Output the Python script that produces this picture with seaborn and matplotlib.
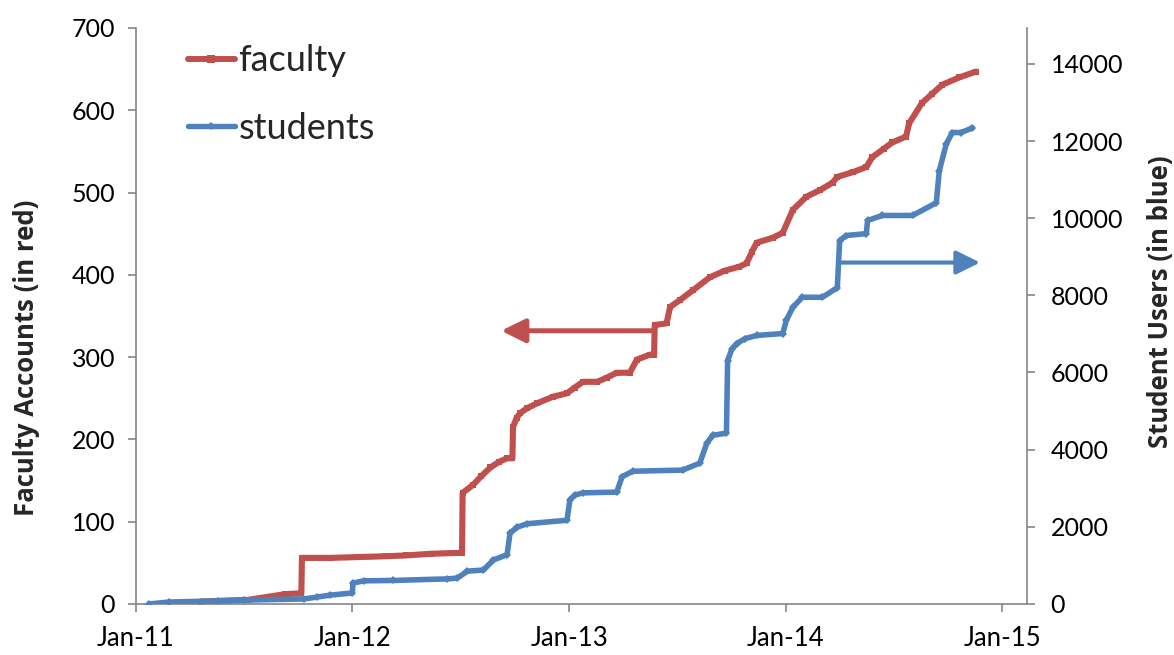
import matplotlib
matplotlib.use("Agg")
import matplotlib.pyplot as plt
import matplotlib.dates as mdates
from matplotlib.lines import Line2D
import seaborn as sns
import pandas as pd

# ---- data ----
faculty_dates = [
    "2011-04-20", "2011-07-09", "2011-09-10", "2011-10-07", "2011-10-08",
    "2011-11-25", "2012-02-26", "2012-04-01", "2012-05-12", "2012-06-24",
    "2012-07-04", "2012-07-05", "2012-07-23", "2012-08-05", "2012-08-21",
    "2012-09-05", "2012-09-18", "2012-09-27", "2012-09-28", "2012-10-04",
    "2012-10-10", "2012-10-22", "2012-11-08", "2012-12-05", "2012-12-28",
    "2013-01-10", "2013-01-24", "2013-02-17", "2013-03-05", "2013-03-22",
    "2013-04-13", "2013-04-25", "2013-05-17", "2013-05-24", "2013-05-25",
    "2013-06-14", "2013-06-20", "2013-07-06", "2013-07-28", "2013-08-26",
    "2013-09-20", "2013-10-15", "2013-10-27", "2013-11-05", "2013-11-13",
    "2013-12-10", "2013-12-27", "2014-01-13", "2014-02-05", "2014-02-28",
    "2014-03-21", "2014-03-29", "2014-04-25", "2014-05-17", "2014-05-27",
    "2014-06-15", "2014-06-30", "2014-07-23", "2014-07-28", "2014-08-19",
    "2014-09-05", "2014-09-22", "2014-10-21", "2014-11-18",
]
faculty_values = [
    3, 5, 12, 13, 56,
    56, 58, 59, 61, 62,
    62, 135, 145, 155, 166,
    173, 177, 177, 215, 226,
    232, 238, 244, 252, 256,
    263, 270, 270, 275, 281,
    281, 297, 303, 303, 339,
    341, 361, 369, 381, 397,
    405, 410, 414, 428, 439,
    445, 451, 479, 495, 503,
    512, 519, 525, 531, 543,
    553, 561, 568, 584, 609,
    620, 631, 640, 647,
]

student_dates = [
    "2011-01-23", "2011-02-26", "2011-05-19", "2011-07-02", "2011-10-11",
    "2011-11-03", "2011-11-25", "2012-01-01", "2012-01-02", "2012-01-20",
    "2012-03-10", "2012-06-09", "2012-06-26", "2012-07-13", "2012-08-09",
    "2012-08-26", "2012-09-18", "2012-09-23", "2012-10-05", "2012-10-22",
    "2012-12-28", "2013-01-02", "2013-01-10", "2013-01-24", "2013-03-22",
    "2013-03-31", "2013-04-18", "2013-07-11", "2013-08-09", "2013-08-21",
    "2013-08-31", "2013-09-23", "2013-09-25", "2013-10-02", "2013-10-10",
    "2013-10-25", "2013-11-13", "2013-12-27", "2014-01-02", "2014-01-13",
    "2014-01-29", "2014-03-04", "2014-03-29", "2014-04-02", "2014-04-13",
    "2014-05-17", "2014-05-19", "2014-06-13", "2014-08-03", "2014-09-12",
    "2014-09-17", "2014-09-29", "2014-10-09", "2014-10-24", "2014-11-12",
]
student_values = [
    0, 50, 80, 100, 130,
    180, 230, 285, 540, 600,
    610, 650, 670, 850, 880,
    1140, 1280, 1840, 1990, 2080,
    2170, 2700, 2820, 2880, 2900,
    3300, 3440, 3470, 3650, 4170,
    4370, 4430, 6310, 6600, 6750,
    6880, 6960, 7010, 7350, 7690,
    7950, 7950, 8200, 9420, 9550,
    9600, 9940, 10070, 10070, 10400,
    11230, 11930, 12220, 12220, 12340,
]

x_tick_dates = ["2011-01-01", "2012-01-01", "2013-01-01", "2014-01-01", "2015-01-01"]
faculty_ticks = [0, 100, 200, 300, 400, 500, 600, 700]
student_ticks = [0, 2000, 4000, 6000, 8000, 10000, 12000, 14000]

series_labels = ["faculty", "students"]
left_label = "Faculty Accounts (in red)"
right_label = "Student Users (in blue)"

# arrow annotations (data coordinates)
red_arrow = {"tail": ("2013-05-21", 332), "tip": ("2012-09-08", 332)}
blue_arrow = {"tail": ("2014-04-04", 8850), "tip": ("2014-11-25", 8850)}

RED = "#C0504D"
BLUE = "#4F81BD"
GRID = "#868686"

# ---- styling ----
sns.set_style("white")
plt.rcParams["font.family"] = ["Lato", "DejaVu Sans"]

fac = pd.DataFrame({"date": pd.to_datetime(faculty_dates), "value": faculty_values})
stu = pd.DataFrame({"date": pd.to_datetime(student_dates), "value": student_values})

fig = plt.figure(figsize=(11.74, 6.55), dpi=100)
ax = fig.add_axes([0.1158, 0.0779, 0.8748 - 0.1158, 0.9573 - 0.0779])
ax2 = ax.twinx()

sns.lineplot(data=fac, x="date", y="value", ax=ax, color=RED, linewidth=4.4,
             marker="s", markersize=5, markeredgewidth=0, sort=True)
sns.lineplot(data=stu, x="date", y="value", ax=ax2, color=BLUE, linewidth=4.0,
             marker="D", markersize=4.5, markeredgewidth=0, sort=True)

ax.set_xlim(pd.Timestamp("2011-01-01"), pd.Timestamp("2015-02-12"))
ax.set_ylim(0, 700)
ax2.set_ylim(0, 14930)
ax.set_xticks(pd.to_datetime(x_tick_dates))
ax.xaxis.set_major_formatter(mdates.DateFormatter("%b-%y"))
ax.set_yticks(faculty_ticks)
ax2.set_yticks(student_ticks)

label_font = dict(family=["Open Sans", "DejaVu Sans"], fontsize=18.5, fontweight="bold")
ax.set_xlabel("")
ax.set_ylabel(left_label, **label_font)
ax2.set_ylabel(right_label, **label_font)
ax.yaxis.set_label_coords(-0.108, 0.427)
ax2.yaxis.set_label_coords(1.135, 0.524)

for a in (ax, ax2):
    a.spines["top"].set_visible(False)
    for s in ("left", "bottom", "right"):
        a.spines[s].set_color(GRID)
        a.spines[s].set_linewidth(1.2)
    a.grid(False)

ax.spines["right"].set_visible(False)
ax2.spines["left"].set_visible(False)
ax2.spines["bottom"].set_visible(False)

ax.tick_params(axis="both", which="major", direction="out", length=6, width=1.2,
               color=GRID, labelsize=18, labelcolor="black")
ax.tick_params(axis="y", pad=9, left=True)
ax.tick_params(axis="x", pad=10, bottom=True, labelsize=18.5)
ax2.tick_params(axis="y", direction="out", length=6, width=1.2, color=GRID,
                labelsize=18, labelcolor="black", pad=11, right=True)

# arrows
ax.annotate("", xy=(mdates.date2num(pd.Timestamp(red_arrow["tip"][0])), red_arrow["tip"][1]),
            xytext=(mdates.date2num(pd.Timestamp(red_arrow["tail"][0])), red_arrow["tail"][1]),
            arrowprops=dict(arrowstyle="-|>,head_length=0.85,head_width=0.42", color=RED,
                            lw=3.6, mutation_scale=17, shrinkA=0, shrinkB=0))
ax2.annotate("", xy=(mdates.date2num(pd.Timestamp(blue_arrow["tip"][0])), blue_arrow["tip"][1]),
             xytext=(mdates.date2num(pd.Timestamp(blue_arrow["tail"][0])), blue_arrow["tail"][1]),
             arrowprops=dict(arrowstyle="-|>,head_length=0.85,head_width=0.42", color=BLUE,
                             lw=3.0, mutation_scale=17, shrinkA=0, shrinkB=0))

handles = [
    Line2D([], [], color=RED, lw=4.3, marker="s", markersize=6, markeredgewidth=0),
    Line2D([], [], color=BLUE, lw=3.9, marker="D", markersize=4, markeredgewidth=0),
]
ax2.legend(handles, series_labels, loc="upper left", bbox_to_anchor=(0.04, 1.0),
           frameon=False, fontsize=26, handlelength=1.3, handletextpad=0.1,
           labelspacing=0.95, borderaxespad=0.05)

fig.savefig("out.png", dpi=100)
